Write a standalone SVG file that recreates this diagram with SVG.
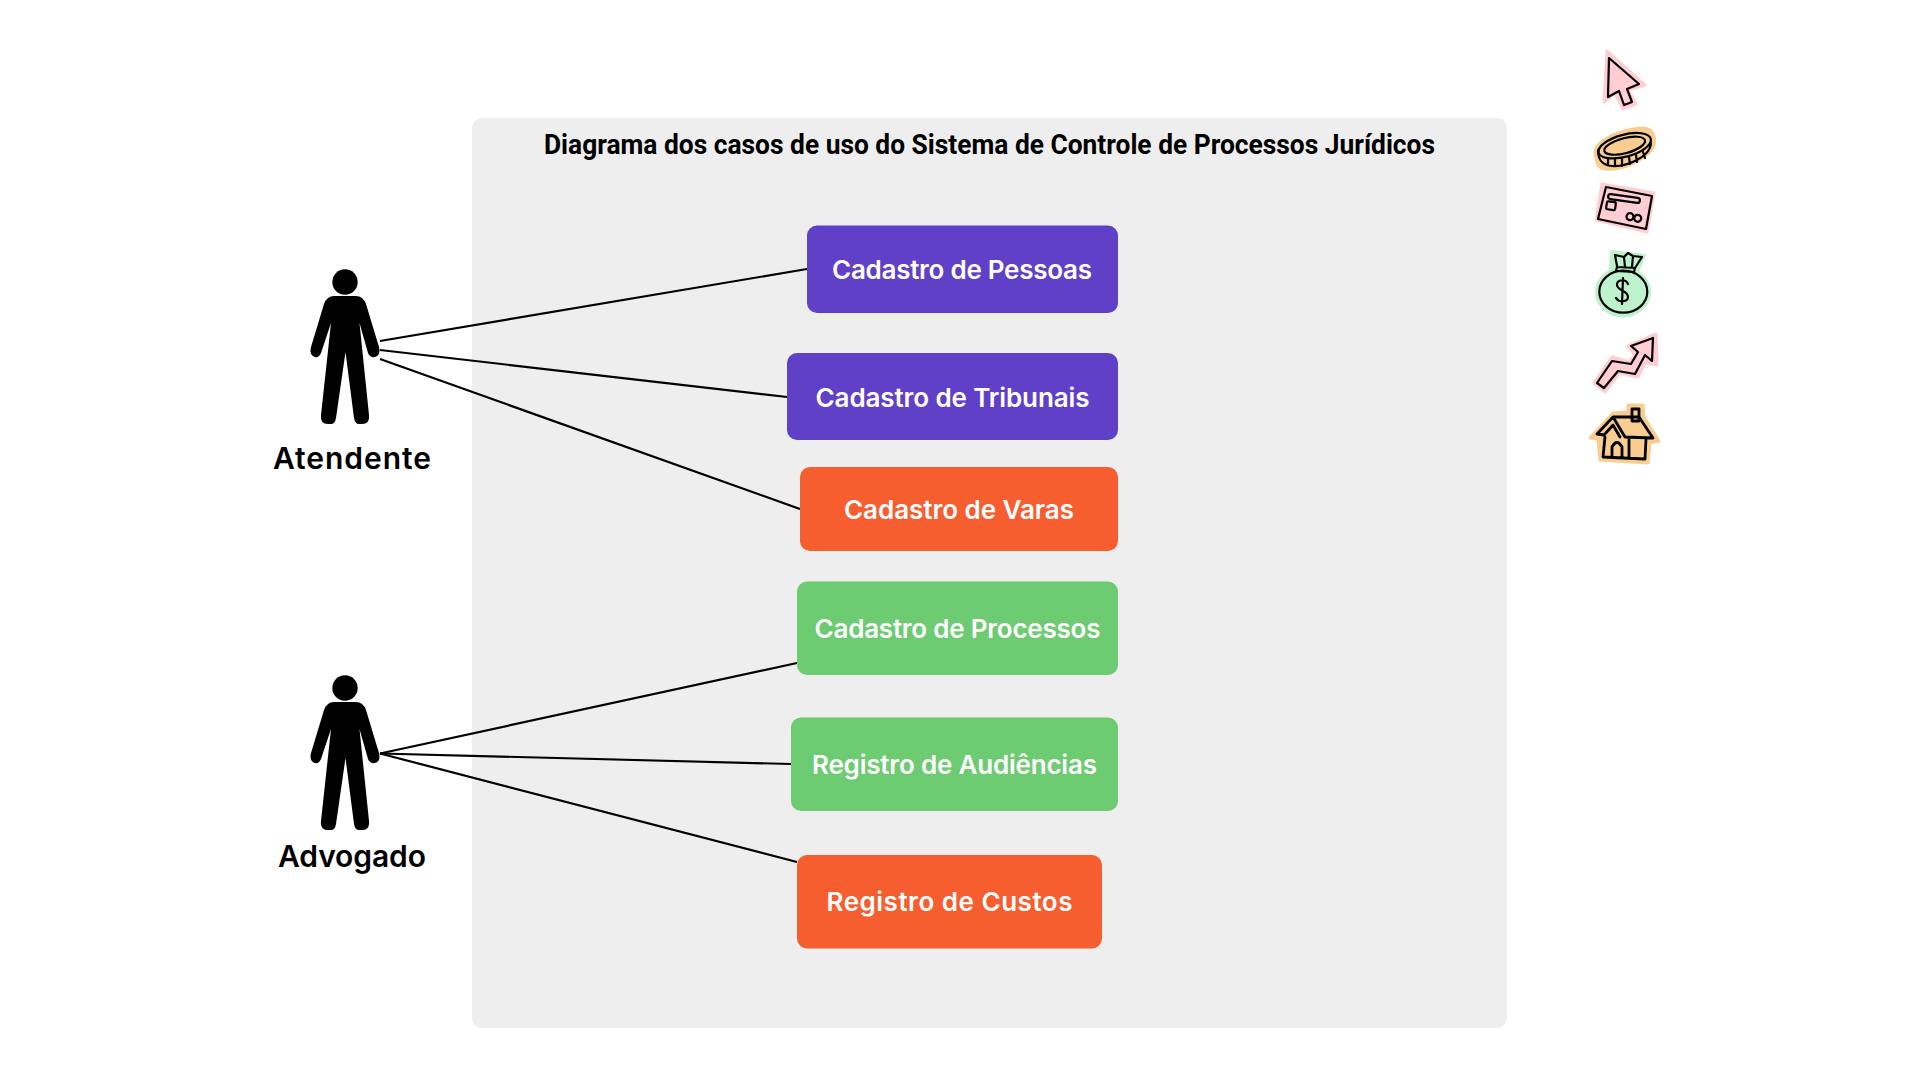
<svg xmlns="http://www.w3.org/2000/svg" width="1920" height="1080" viewBox="0 0 1920 1080">
<style>
.lbl{font-family:"Inter","Liberation Sans",sans-serif;font-weight:600;font-size:26px;fill:#fff;text-anchor:middle}
.actor{font-family:"Inter","Liberation Sans",sans-serif;font-weight:600;font-size:30px;fill:#000;text-anchor:middle}
.title{font-family:"Roboto","Liberation Sans",sans-serif;font-weight:700;font-size:27px;fill:#000;text-anchor:middle}
.conn{stroke:#000;stroke-width:2.2;fill:none}
.ic{stroke:#000;stroke-width:2.2;stroke-linejoin:round;stroke-linecap:round;fill:none}
.halo-o{fill:#f8cd8f;stroke:#f8cd8f;stroke-width:3;stroke-linejoin:round}
.halo-p{fill:#ffcdd2;stroke:#ffcdd2;stroke-width:3;stroke-linejoin:round}
.halo-g{fill:#bdf2cd;stroke:#bdf2cd;stroke-width:2;stroke-linejoin:round}
</style>
<defs>
<g id="person">
<circle cx="345" cy="282" r="12.700"/>
<path d="M334,296 H356 Q363,296 366,304 L379,347 Q381,355 375,357 Q370,358 368,353 L359.500,323 L369,415 Q370,424 362,424 H359 Q355,424 354,418 L345.500,352 L336,418 Q335,424 331,424 H328 Q320,424 321,415 L331,323 L321,353 Q319,358 315,357 Q309,355 311,347 L324,304 Q327,296 334,296Z"/>
</g>
</defs>
<rect id="panel" x="472" y="118" width="1035" height="910" rx="10" fill="#eeeeee"/>
<text id="title" class="title" x="989.500" y="154" textLength="891" lengthAdjust="spacingAndGlyphs">Diagrama dos casos de uso do Sistema de Controle de Processos Jurídicos</text>
<g id="connectors" class="conn">
<line x1="380" y1="341" x2="807" y2="269"/>
<line x1="380" y1="350" x2="787" y2="397"/>
<line x1="380" y1="359" x2="800" y2="509"/>
<line x1="380" y1="753.500" x2="797" y2="663"/>
<line x1="380" y1="753.500" x2="791" y2="764"/>
<line x1="380" y1="753.500" x2="797" y2="862"/>
</g>
<g id="atendente"><use href="#person"/><text class="actor" x="352" y="469" textLength="158" lengthAdjust="spacing">Atendente</text></g>
<g id="advogado"><use href="#person" y="406"/><text class="actor" x="352" y="867" textLength="148" lengthAdjust="spacing">Advogado</text></g>
<g id="uc1"><rect x="807" y="225.500" width="311" height="87.500" rx="10" fill="#6140c8"/><text class="lbl" x="962" y="279" textLength="260" lengthAdjust="spacing">Cadastro de Pessoas</text></g>
<g id="uc2"><rect x="787" y="353" width="331" height="87" rx="10" fill="#6140c8"/><text class="lbl" x="952.500" y="407" textLength="274" lengthAdjust="spacing">Cadastro de Tribunais</text></g>
<g id="uc3"><rect x="800" y="467" width="318" height="84" rx="10" fill="#f65e30"/><text class="lbl" x="959" y="519" textLength="230" lengthAdjust="spacing">Cadastro de Varas</text></g>
<g id="uc4"><rect x="797" y="581.500" width="321" height="93.500" rx="10" fill="#6dcb72"/><text class="lbl" x="957.500" y="638" textLength="286" lengthAdjust="spacing">Cadastro de Processos</text></g>
<g id="uc5"><rect x="791" y="717.500" width="327" height="93.500" rx="10" fill="#6dcb72"/><text class="lbl" x="954.500" y="774" textLength="285" lengthAdjust="spacing">Registro de Audiências</text></g>
<g id="uc6"><rect x="797" y="855" width="305" height="93.500" rx="10" fill="#f65e30"/><text class="lbl" x="949.500" y="911" textLength="246" lengthAdjust="spacing">Registro de Custos</text></g>
<g id="icon-cursor"><path class="halo-p" d="M1607,51 L1645,85 L1628,90 L1636,104 L1623,109 L1615,93 L1604,102Z"/><path class="ic" d="M1609,58 L1639,84 L1627,89 L1632,102 L1624,105 L1619,91 L1608,97Z"/></g>
<g id="icon-coin"><path class="halo-o" d="M1595,152 C1596,140 1620,130 1640,128 C1652,127 1656,135 1654,145 C1650,155 1640,160 1630,165 C1615,170 1600,172 1597,163Z"/><ellipse class="ic" cx="1624.700" cy="145.700" rx="27" ry="11" transform="rotate(-15 1624.700 145.700)"/><ellipse class="ic" cx="1624.700" cy="145.700" rx="21" ry="7.500" transform="rotate(-15 1624.700 145.700)"/><path class="ic" d="M1598,150 C1598,160 1602,165 1612,166 C1625,167 1650,158 1651,143 M1608,159 V165.500 M1615,159 V166 M1622,158 V166 M1629,157 L1630,164 M1636,155 L1637,162 M1643,152 L1645,158"/></g>
<g id="icon-card"><path class="halo-p" d="M1602,184 L1654,193 L1647,232 L1596,220Z"/><path class="ic" d="M1606,187 L1652,196 L1646,229 L1598,219Z"/><rect class="ic" x="1608" y="196" width="32" height="5" rx="2.500" transform="rotate(8 1624 198.500)"/><rect class="ic" x="1606.500" y="201.700" width="9" height="8" rx="1.500" transform="rotate(8 1611 205.700)"/><circle class="ic" cx="1630" cy="216.700" r="3.500"/><circle class="ic" cx="1637.700" cy="218.300" r="3.500"/></g>
<g id="icon-bag"><path class="halo-g" d="M1611,251 L1645,255 L1638,272 L1610,272Z"/><ellipse class="halo-g" cx="1623" cy="292" rx="27" ry="24.500"/><ellipse class="ic" cx="1623.300" cy="291.700" rx="24" ry="21"/><path class="ic" d="M1617,267 L1635,268 L1634,272 L1616,271Z M1617,266 L1615,255 L1624,257 L1628,253 L1633,256 L1642,257 L1635,268 M1624,257 L1625,267 M1633,256 L1632,267"/><path class="ic" d="M1628,284 C1626,279 1618,279 1617,284 C1616,291 1628,290 1628,297 C1628,302 1619,303 1616,298 M1623,278 L1622,304"/></g>
<g id="icon-arrow"><path class="halo-p" d="M1594,383 L1612,357 L1629,362 L1635,355 L1628,346 L1656,334 L1657,365 L1645,363 L1638,377 L1619,373 L1605,392Z"/><path class="ic" d="M1597,383 L1612,361 L1631,364 L1638,352 L1631,346 L1653,338 L1652,361 L1645,355 L1635,374 L1618,371 L1604,388Z"/></g>
<g id="icon-house"><path class="halo-o" d="M1628,405 L1643,405 L1644,417 L1659,441 L1650,443 L1648,463 L1600,460 L1598,439 L1590,438 L1613,413 L1628,412Z"/><path class="ic" style="stroke-width:2.800" d="M1597,434 L1613,417 L1639,417 L1653,438 L1625,437 L1613,417 M1597,434 L1604,435 L1613,425 L1620,437 M1605,437 L1603,457 L1645,459 L1646,439 M1629,438 V458 M1612,457 V447 Q1617,438 1622,447 V458"/><rect class="ic" style="stroke-width:2.800" x="1632" y="409" width="7" height="12" fill="#f8cd8f"/></g>
</svg>
